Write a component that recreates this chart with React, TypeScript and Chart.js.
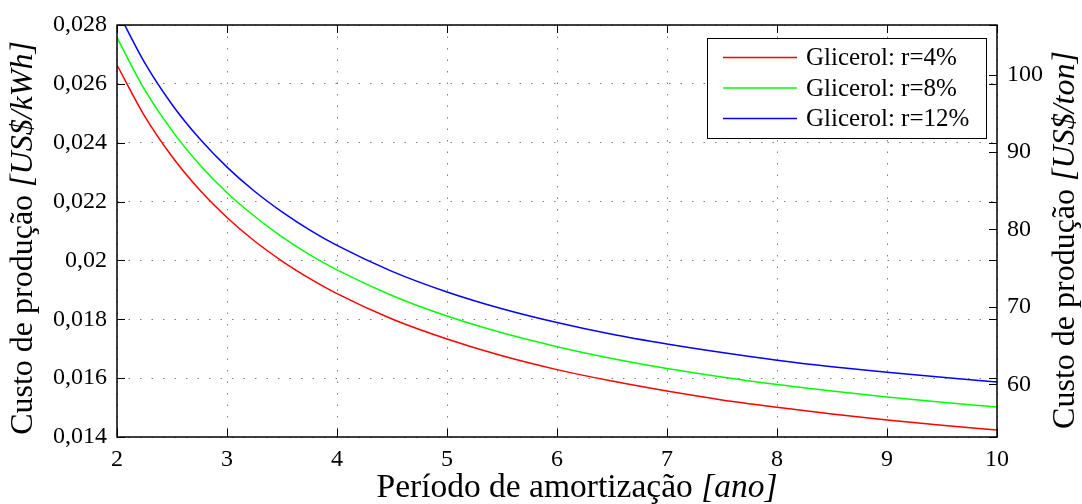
import React, { useEffect, useRef } from "react";
import { Chart, registerables } from "chart.js";

Chart.register(...registerables);

// Período de amortização [ano]
const periods = [2, 2.25, 2.5, 2.75, 3, 3.25, 3.5, 3.75, 4, 4.5, 5, 5.5, 6, 6.5, 7, 7.5, 8, 8.5, 9, 9.5, 10];
// Custo de produção [US$/kWh]
const custoR4 = [0.02664, 0.02491, 0.02353, 0.0224, 0.02146, 0.02066, 0.01998, 0.01939, 0.01887, 0.01801, 0.01733, 0.01676, 0.01629, 0.0159, 0.01556, 0.01526, 0.01501, 0.01478, 0.01458, 0.0144, 0.01424];
const custoR8 = [0.02757, 0.02581, 0.02441, 0.02326, 0.0223, 0.0215, 0.0208, 0.0202, 0.01968, 0.01881, 0.01811, 0.01754, 0.01707, 0.01667, 0.01633, 0.01604, 0.01578, 0.01556, 0.01536, 0.01518, 0.01502];
const custoR12 = [0.02851, 0.02673, 0.0253, 0.02414, 0.02317, 0.02235, 0.02165, 0.02104, 0.02051, 0.01963, 0.01893, 0.01836, 0.01789, 0.01749, 0.01716, 0.01687, 0.01661, 0.01639, 0.0162, 0.01603, 0.01587];

const seriesLabels = ["Glicerol: r=4%", "Glicerol: r=8%", "Glicerol: r=12%"];
const seriesColors = ["#ff0000", "#00ff00", "#0000ff"];

const xMin = 2;
const xMax = 10;
const leftMin = 0.014;
const leftMax = 0.028;
const leftStep = 0.002;
const kwhToTon = 3800; // US$/kWh -> US$/ton
const rightStep = 10;

const xTitle = [
  { text: "Período de amortização ", italic: false },
  { text: "[ano]", italic: true },
];
const leftTitle = [
  { text: "Custo de produção ", italic: false },
  { text: "[US$/kWh]", italic: true },
];
const rightTitle = [
  { text: "Custo de produção ", italic: false },
  { text: "[US$/ton]", italic: true },
];

const FAMILY = '"Liberation Serif", "Times New Roman", serif';
const font = (size: number, italic = false) => `${italic ? "italic " : ""}${size}px ${FAMILY}`;

function drawMixed(ctx: CanvasRenderingContext2D, parts: { text: string; italic: boolean }[], cx: number, cy: number, rot: number, size: number) {
  ctx.save();
  ctx.translate(cx, cy);
  ctx.rotate(rot);
  ctx.fillStyle = "#000";
  ctx.textBaseline = "middle";
  ctx.textAlign = "left";
  let total = 0;
  const widths = parts.map((p) => {
    ctx.font = font(size, p.italic);
    const w = ctx.measureText(p.text).width;
    total += w;
    return w;
  });
  let x = -total / 2;
  parts.forEach((p, i) => {
    ctx.font = font(size, p.italic);
    ctx.fillText(p.text, x, 0);
    x += widths[i];
  });
  ctx.restore();
}

const decorPlugin = {
  id: "matlabDecor",
  afterDatasetsDraw(chart: any) {
    const { ctx, chartArea: a, scales } = chart;
    ctx.save();

    // Legend box
    const lx = 707, ly = 38, lw = 279, lh = 100;
    ctx.fillStyle = "#fff";
    ctx.fillRect(lx, ly, lw, lh);
    ctx.strokeStyle = "#000";
    ctx.lineWidth = 1;
    ctx.strokeRect(lx + 0.5, ly + 0.5, lw, lh);
    chart.data.datasets.forEach((ds: any, i: number) => {
      const y = 57.5 + i * 30.5;
      ctx.strokeStyle = ds.borderColor;
      ctx.lineWidth = 1.3;
      ctx.beginPath();
      ctx.moveTo(723, y);
      ctx.lineTo(797, y);
      ctx.stroke();
      ctx.fillStyle = "#000";
      ctx.font = font(25);
      ctx.textBaseline = "middle";
      ctx.textAlign = "left";
      ctx.fillText(ds.label, 806, y + 1);
    });

    // Frame
    ctx.strokeStyle = "#000";
    ctx.lineWidth = 1.5;
    ctx.strokeRect(a.left, a.top, a.right - a.left, a.bottom - a.top);

    // Inward tick marks
    const tl = 8;
    const line = (x1: number, y1: number, x2: number, y2: number) => {
      ctx.beginPath();
      ctx.moveTo(x1, y1);
      ctx.lineTo(x2, y2);
      ctx.stroke();
    };
    ctx.lineWidth = 1;
    scales.x.ticks.forEach((t: any) => {
      const px = Math.round(scales.x.getPixelForValue(t.value)) + 0.5;
      line(px, a.bottom, px, a.bottom - tl);
      line(px, a.top, px, a.top + tl);
    });
    scales.y.ticks.forEach((t: any) => {
      const py = Math.round(scales.y.getPixelForValue(t.value)) + 0.5;
      line(a.left, py, a.left + tl, py);
      line(a.right, py, a.right - tl, py);
    });
    scales.y2.ticks.forEach((t: any) => {
      const py = Math.round(scales.y2.getPixelForValue(t.value)) + 0.5;
      line(a.right, py, a.right - tl, py);
    });
    ctx.restore();
  },
  afterDraw(chart: any) {
    const { ctx } = chart;
    drawMixed(ctx, xTitle, 577, 488, 0, 33.5);
    drawMixed(ctx, leftTitle, 24, 238, -Math.PI / 2, 32);
    drawMixed(ctx, rightTitle, 1066, 240, -Math.PI / 2, 32);
  },
};

export default function App() {
  const canvasRef = useRef<HTMLCanvasElement | null>(null);

  useEffect(() => {
    if (!canvasRef.current) return;
    const mk = (vals: number[]) => periods.map((x, i) => ({ x, y: vals[i] }));
    const gridDash = [1.5, 10];
    const chart = new Chart(canvasRef.current, {
      type: "line",
      data: {
        datasets: [custoR4, custoR8, custoR12].map((vals, i) => ({
          label: seriesLabels[i],
          data: mk(vals),
          borderColor: seriesColors[i],
          backgroundColor: seriesColors[i],
          borderWidth: 1.5,
          pointRadius: 0,
          cubicInterpolationMode: "monotone" as const,
          fill: false,
          yAxisID: "y",
        })),
      },
      options: {
        responsive: false,
        animation: false,
        devicePixelRatio: 1,
        layout: { padding: { left: 0, right: 0, top: 25, bottom: 0 } },
        plugins: { legend: { display: false }, tooltip: { enabled: false } },
        scales: {
          x: {
            type: "linear",
            min: xMin,
            max: xMax,
            afterFit: (s: any) => { s.height = 67; },
            ticks: {
              stepSize: 1,
              padding: 8,
              color: "#000",
              font: { family: FAMILY, size: 24 },
              callback: (v: any) => String(v),
            },
            grid: { color: "#808080", lineWidth: 1, drawTicks: false },
            border: { display: false, dash: gridDash },
          },
          y: {
            type: "linear",
            position: "left",
            min: leftMin,
            max: leftMax,
            afterFit: (s: any) => { s.width = 117; },
            ticks: {
              stepSize: leftStep,
              padding: 10,
              color: "#000",
              font: { family: FAMILY, size: 24 },
              callback: (v: any) => String(Math.round(Number(v) * 1000) / 1000).replace(".", ","),
            },
            grid: { color: "#808080", lineWidth: 1, drawTicks: false },
            border: { display: false, dash: gridDash },
          },
          y2: {
            type: "linear",
            position: "right",
            min: leftMin * kwhToTon,
            max: leftMax * kwhToTon,
            afterFit: (s: any) => { s.width = 85; },
            ticks: {
              stepSize: rightStep,
              includeBounds: false,
              padding: 10,
              color: "#000",
              font: { family: FAMILY, size: 24 },
              callback: (v: any) => String(Math.round(Number(v))),
            },
            grid: { display: false, drawTicks: false },
            border: { display: false },
          },
        },
      },
      plugins: [decorPlugin],
    } as any);
    return () => chart.destroy();
  }, []);

  return (
    <div style={{ position: "absolute", left: 0, top: 0, width: 1082, height: 504, background: "#fff" }}>
      <canvas ref={canvasRef} width={1082} height={504} />
    </div>
  );
}
